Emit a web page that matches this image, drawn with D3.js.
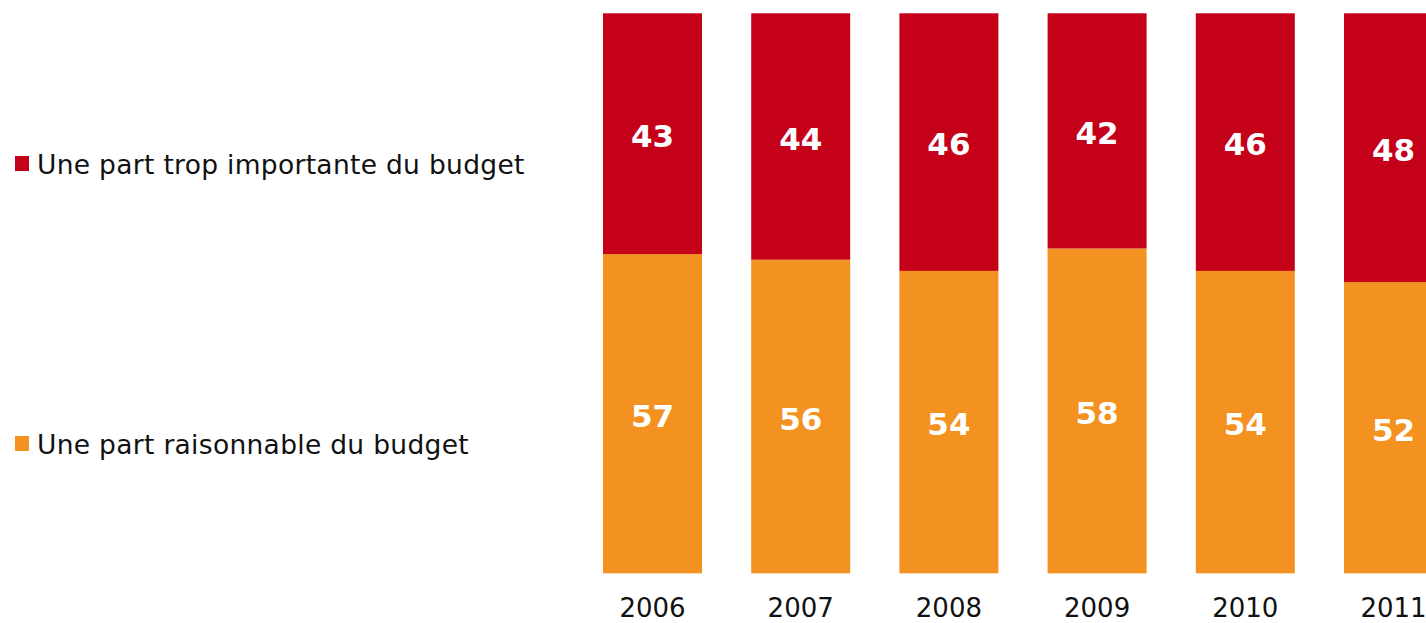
<!DOCTYPE html>
<html>
<head>
<meta charset="utf-8">
<script src="https://cdn.jsdelivr.net/npm/d3@7"></script>
<style>
  body { margin: 0; background: #fff; }
  svg { display: block; font-family: "DejaVu Sans", Verdana, sans-serif; }
</style>
</head>
<body>
<div id="container"></div>
<script>
let w = 1426;
let h = 623;

// data
let years = ["2006", "2007", "2008", "2009", "2010", "2011"];
let tropImportante = [43, 44, 46, 42, 46, 48];
let raisonnable = [57, 56, 54, 58, 54, 52];
let seriesNames = ["Une part trop importante du budget", "Une part raisonnable du budget"];
let seriesColors = ["#c50019", "#f39220"];

let viz = d3.select("#container").append("svg")
    .attr("width", w)
    .attr("height", h);

let xScale = d3.scaleBand()
  .domain(years)
  .range([603, 1443])
  .paddingInner(0.332)
  .paddingOuter(0)
  .align(0);

let yScale = d3.scaleLinear().domain([0, 100]).range([573.3, 13.3]);

let rows = years.map(function(y, i){
  return {year: y, raisonnable: raisonnable[i], trop: tropImportante[i]};
});

// bottom = raisonnable, top = trop importante
let stack = d3.stack().keys(["raisonnable", "trop"]);
let stacked = stack(rows);
let colorFor = {raisonnable: seriesColors[1], trop: seriesColors[0]};

let layers = viz.selectAll("g.layer").data(stacked).enter()
  .append("g").classed("layer", true)
  .attr("fill", function(d){ return colorFor[d.key]; });

layers.selectAll("rect").data(function(d){ return d; }).enter()
  .append("rect")
  .attr("x", function(d){ return xScale(d.data.year); })
  .attr("width", xScale.bandwidth())
  .attr("y", function(d){ return yScale(d[1]); })
  .attr("height", function(d){ return yScale(d[0]) - yScale(d[1]); });

layers.selectAll("text").data(function(d){ return d; }).enter()
  .append("text")
  .attr("x", function(d){ return xScale(d.data.year) + xScale.bandwidth() / 2; })
  .attr("y", function(d){ return (yScale(d[0]) + yScale(d[1])) / 2 + 2; })
  .attr("text-anchor", "middle")
  .attr("dominant-baseline", "central")
  .attr("fill", "white")
  .attr("font-weight", "bold")
  .attr("font-size", 31)
  .text(function(d){ return d[1] - d[0]; });

// x axis (years only, no line or ticks)
let xAxis = d3.axisBottom(xScale).tickSize(0).tickPadding(0);
let xAxisGroup = viz.append("g").classed("xAxis", true)
  .attr("transform", "translate(0,599)")
  .call(xAxis);
xAxisGroup.select(".domain").remove();
xAxisGroup.selectAll("text")
  .attr("font-family", "DejaVu Sans, Verdana, sans-serif")
  .attr("font-size", 26)
  .attr("fill", "#111")
  .attr("dy", "0.71em");

// legend
let legendY = [164, 444];
let legend = viz.selectAll("g.legend").data(seriesNames).enter()
  .append("g").classed("legend", true)
  .attr("transform", function(d, i){ return "translate(15," + legendY[i] + ")"; });
legend.append("rect")
  .attr("x", 0).attr("y", -8)
  .attr("width", 14).attr("height", 15)
  .attr("fill", function(d, i){ return seriesColors[i]; });
legend.append("text")
  .attr("x", 22)
  .attr("y", 10)
  .attr("font-size", 26.5)
  .attr("letter-spacing", 0.3)
  .attr("fill", "#111")
  .text(function(d){ return d; });
</script>
</body>
</html>
